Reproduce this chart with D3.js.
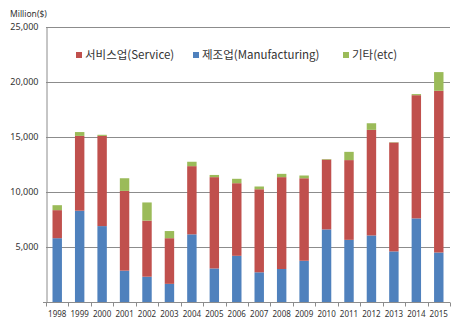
<!DOCTYPE html>
<html>
<head>
<meta charset="utf-8">
<script src="https://cdn.jsdelivr.net/npm/d3@7"></script>
<style>
html,body{margin:0;padding:0;background:#fff;}
svg{display:block;}
</style>
</head>
<body>
<svg id="chart" width="457" height="328"></svg>
<script>
const years = ["1998","1999","2000","2001","2002","2003","2004","2005","2006","2007","2008","2009","2010","2011","2012","2013","2014","2015"];
const manufacturing = [5800,8300,6900,2850,2300,1650,6150,3050,4200,2700,3000,3750,6600,5650,6050,4600,7600,4500];
const service = [2550,6800,8200,7250,5100,4150,6200,8300,6600,7550,8350,7500,6350,7250,9600,9900,11200,14700];
const etc = [450,350,100,1150,1650,650,400,200,400,250,300,250,50,750,600,30,100,1700];
const yTicks = [5000,10000,15000,20000,25000];
const seriesNames = ["서비스업(Service)","제조업(Manufacturing)","기타(etc)"];
const colors = {manufacturing:"#4F81BD", service:"#C0504D", etc:"#9BBB59"};

const svg = d3.select("#chart");
const mLeft = 46, mRight = 450, mTop = 27, mBottom = 302;

const x = d3.scaleBand().domain(years).range([mLeft, mRight]).paddingInner(0.58).paddingOuter(0.29);
const y = d3.scaleLinear().domain([0, 25000]).range([mBottom, mTop]);

const table = years.map((yr, i) => ({year: yr, manufacturing: manufacturing[i], service: service[i], etc: etc[i]}));
const stack = d3.stack().keys(["manufacturing","service","etc"]);
const layers = stack(table);

// gridlines
svg.append("g").selectAll("line").data(yTicks).join("line")
  .attr("x1", mLeft).attr("x2", mRight)
  .attr("y1", d => Math.round(y(d)) + 0.5).attr("y2", d => Math.round(y(d)) + 0.5)
  .attr("stroke", "#8c8c8c").attr("stroke-width", 1);

// bars
svg.append("g").selectAll("g").data(layers).join("g")
  .attr("fill", d => colors[d.key])
  .selectAll("rect").data(d => d).join("rect")
  .attr("x", d => x(d.data.year))
  .attr("width", x.bandwidth())
  .attr("y", d => y(d[1]))
  .attr("height", d => y(d[0]) - y(d[1]));

// y axis
const yAxis = d3.axisLeft(y).tickValues(yTicks).tickSize(0).tickPadding(8)
  .tickFormat(d3.format(","));
const gy = svg.append("g").attr("transform", `translate(${mLeft + 0.5},0)`).call(yAxis);
gy.select(".domain").attr("stroke", "#8c8c8c");
gy.selectAll("text").attr("font-family", "'Noto Sans', 'DejaVu Sans', sans-serif").attr("font-size", 9).attr("fill", "#333");

// x axis
const xAxis = d3.axisBottom(x).tickSize(0).tickPadding(9);
const gx = svg.append("g").attr("transform", `translate(0,${mBottom + 0.5})`).call(xAxis);
gx.select(".domain").attr("d", `M${mLeft - 3},0H${mRight}`).attr("stroke", "#8c8c8c");
gx.selectAll("text").attr("font-family", "'Liberation Sans Narrow', 'Noto Sans', sans-serif").attr("font-size", 8).attr("fill", "#333");
// tick marks at band boundaries
const bounds = years.map(yr => x(yr) - x.step() * x.paddingInner() / 2).concat([mRight]);
gx.append("g").selectAll("line").data(bounds).join("line")
  .attr("x1", d => Math.round(d) + 0.5).attr("x2", d => Math.round(d) + 0.5)
  .attr("y1", 0).attr("y2", 4).attr("stroke", "#8c8c8c");

// unit label
svg.append("text").attr("x", 10).attr("y", 17).text("Million($)")
  .attr("font-family", "'Noto Sans', sans-serif").attr("font-size", 8.5).attr("fill", "#333");

// legend
const legendItems = [
  {name: seriesNames[0], color: colors.service, x: 76},
  {name: seriesNames[1], color: colors.manufacturing, x: 193},
  {name: seriesNames[2], color: colors.etc, x: 343}
];
const lg = svg.append("g").selectAll("g").data(legendItems).join("g")
  .attr("transform", d => `translate(${d.x},55)`);
lg.append("rect").attr("x", 0).attr("y", -3).attr("width", 6).attr("height", 6).attr("fill", d => d.color);
lg.append("text").attr("x", 9).attr("y", 4).text(d => d.name)
  .attr("font-family", "'Noto Sans CJK KR', 'Noto Sans', sans-serif").attr("font-size", 11.5).attr("fill", "#333");
</script>
</body>
</html>
